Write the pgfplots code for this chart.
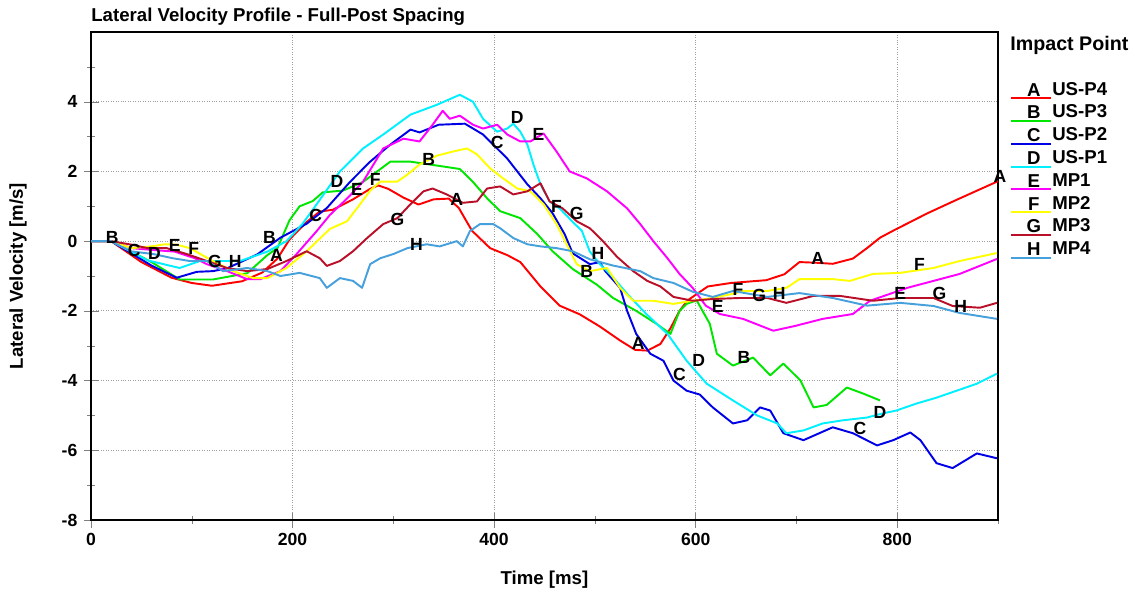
\documentclass[border=0pt]{standalone}
\usepackage{fontspec}
\setmainfont{Liberation Sans}
\usepackage{pgfplots}
\pgfplotsset{compat=1.18}

\definecolor{cA}{RGB}{255,0,0}
\definecolor{cB}{RGB}{0,230,0}
\definecolor{cC}{RGB}{0,0,230}
\definecolor{cD}{RGB}{0,240,255}
\definecolor{cE}{RGB}{255,0,255}
\definecolor{cF}{RGB}{255,255,0}
\definecolor{cG}{RGB}{185,15,40}
\definecolor{cH}{RGB}{70,160,220}

\newcommand{\lf}{\bfseries\fontsize{10}{12}\selectfont}
\newcommand{\tf}{\bfseries\fontsize{10.6}{12.5}\selectfont}

\pgfplotsset{
  letleg/.style={legend image code/.code={
      \draw[##1,line width=1.1pt] (0cm,-0.17cm) -- (0.8cm,-0.17cm);
      \node[font=\tf,text=black,inner sep=0pt,anchor=base] at (0.4cm,-0.13cm) {#1};}}
}
\tikzset{lbl/.style={font=\lf,inner sep=0pt,text=black}}

\begin{document}
\begin{tikzpicture}
\path (-1.82,-1.52) rectangle (20.88,10.40);
\begin{axis}[
  at={(0,0)}, anchor=south west,
  scale only axis,
  width=18.14cm, height=9.76cm,
  xmin=0, xmax=900, ymin=-8, ymax=6,
  xtick={0,200,...,800}, ytick={-8,-6,...,4},
  minor xtick={100,300,...,900}, minor ytick={-7,-5,...,5},
  xtick pos=bottom, ytick pos=left,
  tick align=center,
  major tick length=0.3cm, minor tick length=0.16cm,
  grid=major,
  major grid style={gray!75, densely dotted, line width=0.6pt},
  axis line style={line width=0.6pt},
  /pgf/number format/assume math mode=true,
  tick label style={font=\lf},
  xlabel={Time [ms]}, ylabel={Lateral Velocity [m/s]},
  every axis x label/.style={at={(axis description cs:0.5,-0.123)},anchor=center,font=\tf},
  every axis y label/.style={at={(axis description cs:-0.0805,0.5)},rotate=90,anchor=center,font=\tf},
  title={Lateral Velocity Profile - Full-Post Spacing},
  every axis title/.style={font=\tf, at={(axis description cs:0,1.031)}, anchor=west, inner sep=0pt},
  clip=false,
  legend cell align=left,
  legend style={at={(axis description cs:1.0132,0.902)}, anchor=north west,
    draw=none, fill=none, font=\tf, inner sep=0pt, row sep=0.056cm,
    nodes={inner sep=0pt, text height=0.3cm, text depth=0.08cm, xshift=0.05cm}},
  every axis plot/.append style={line width=1.1pt, line join=round},
]
% A  US-P4
\addplot[cA, letleg=A] coordinates {(0,0)(20,0)(50,-0.6)(80,-1.05)(100,-1.2)(120,-1.28)(150,-1.15)(170,-0.9)(185,-0.5)(197,0.05)(214,0.55)(227,0.85)(240,0.9)(260,1.2)(277,1.5)(285,1.6)(295,1.5)(310,1.25)(325,1.05)(340,1.2)(355,1.22)(365,0.95)(378,0.3)(396,-0.2)(413,-0.4)(426,-0.6)(446,-1.3)(465,-1.85)(485,-2.1)(505,-2.45)(525,-2.85)(540,-3.12)(552,-3.14)(565,-2.95)(575,-2.5)(584,-2.0)(592,-1.7)(602,-1.5)(612,-1.3)(635,-1.2)(670,-1.12)(688,-0.95)(703,-0.6)(720,-0.62)(736,-0.65)(756,-0.5)(770,-0.2)(783,0.1)(796,0.3)(830,0.8)(860,1.2)(900,1.72)};
\addlegendentry{US-P4}
% B  US-P3
\addplot[cB, letleg=B] coordinates {(0,0)(20,0)(40,-0.3)(60,-0.6)(88,-1.1)(121,-1.1)(155,-0.92)(175,-0.4)(185,-0.2)(197,0.6)(207,1.0)(220,1.15)(230,1.4)(250,1.45)(270,1.7)(297,2.28)(317,2.28)(336,2.2)(366,2.07)(379,1.7)(393,1.23)(406,0.86)(426,0.66)(443,0.2)(458,-0.29)(478,-0.8)(502,-1.25)(518,-1.63)(541,-2.0)(561,-2.37)(575,-2.66)(584,-2.0)(591,-1.8)(601,-1.7)(614,-2.37)(621,-3.23)(637,-3.57)(657,-3.34)(674,-3.85)(687,-3.51)(704,-4.0)(717,-4.77)(730,-4.7)(750,-4.2)(766,-4.37)(783,-4.57)};
\addlegendentry{US-P3}
% C  US-P2
\addplot[cC, letleg=C] coordinates {(0,0)(20,0)(40,-0.35)(60,-0.7)(85,-1.05)(105,-0.88)(121,-0.86)(135,-0.78)(165,-0.38)(188,0.1)(214,0.5)(234,0.95)(257,1.7)(277,2.28)(297,2.77)(317,3.2)(326,3.12)(345,3.34)(371,3.37)(389,3.06)(413,2.37)(433,1.63)(446,1.23)(458,0.8)(470,0.2)(478,-0.35)(495,-0.66)(505,-0.6)(510,-0.85)(525,-1.34)(532,-2.0)(541,-2.66)(555,-3.23)(568,-3.43)(578,-4.0)(591,-4.29)(604,-4.4)(617,-4.77)(637,-5.23)(651,-5.14)(664,-4.77)(674,-4.86)(687,-5.51)(707,-5.71)(736,-5.34)(756,-5.51)(780,-5.86)(796,-5.71)(813,-5.49)(823,-5.71)(839,-6.37)(855,-6.51)(879,-6.09)(899,-6.23)};
\addlegendentry{US-P2}
% D  US-P1
\addplot[cD, letleg=D] coordinates {(0,0)(20,0)(40,-0.3)(56,-0.55)(88,-0.77)(108,-0.57)(128,-0.57)(148,-0.57)(175,-0.3)(194,0)(210,0.5)(220,0.9)(247,2.0)(270,2.66)(290,3.06)(317,3.63)(343,3.91)(366,4.2)(379,4.0)(389,3.51)(403,3.14)(413,3.23)(419,3.37)(426,3.14)(433,2.77)(439,2.2)(446,1.63)(455,1.14)(465,0.94)(478,0.55)(487,0.3)(495,-0.3)(505,-0.66)(515,-0.94)(532,-1.51)(551,-2.09)(572,-2.66)(591,-3.43)(611,-4.09)(637,-4.57)(661,-5.0)(681,-5.23)(690,-5.51)(707,-5.43)(726,-5.23)(746,-5.14)(770,-5.06)(786,-4.94)(799,-4.86)(819,-4.66)(839,-4.49)(859,-4.29)(879,-4.09)(899,-3.8)};
\addlegendentry{US-P1}
% E  MP1
\addplot[cE, letleg=E] coordinates {(0,0)(20,0)(40,-0.2)(60,-0.25)(83,-0.3)(103,-0.49)(115,-0.66)(135,-0.86)(155,-1.09)(168,-1.09)(188,-0.86)(204,-0.37)(224,0.29)(237,0.75)(255,1.25)(270,1.71)(290,2.66)(310,2.94)(326,2.86)(339,3.34)(349,3.74)(356,3.51)(366,3.6)(379,3.34)(389,3.23)(403,3.34)(413,3.06)(426,2.86)(436,2.86)(449,3.09)(462,2.57)(475,2.0)(492,1.8)(512,1.43)(532,0.94)(545,0.49)(558,0)(572,-0.49)(584,-0.94)(597,-1.34)(610,-1.85)(624,-2.09)(647,-2.23)(677,-2.57)(699,-2.43)(726,-2.23)(756,-2.09)(773,-1.71)(793,-1.51)(810,-1.34)(836,-1.14)(862,-0.94)(899,-0.51)};
\addlegendentry{MP1}
% F  MP2
\addplot[cF, letleg=F] coordinates {(0,0)(20,0)(40,-0.2)(60,-0.15)(73,-0.09)(85,-0.1)(98,-0.2)(121,-0.57)(141,-0.86)(161,-1.06)(175,-1.06)(194,-0.77)(214,-0.29)(237,0.35)(254,0.57)(267,1.06)(277,1.45)(287,1.71)(304,1.71)(314,1.91)(326,2.2)(343,2.45)(359,2.57)(373,2.66)(383,2.49)(396,2.09)(409,1.8)(423,1.51)(436,1.43)(449,1.06)(462,0.49)(472,-0.09)(482,-0.66)(495,-0.86)(512,-0.77)(525,-1.34)(538,-1.71)(558,-1.71)(578,-1.8)(597,-1.71)(617,-1.63)(637,-1.51)(647,-1.43)(671,-1.43)(690,-1.34)(703,-1.09)(736,-1.09)(753,-1.14)(776,-0.94)(803,-0.91)(836,-0.77)(862,-0.57)(899,-0.34)};
\addlegendentry{MP2}
% G  MP3
\addplot[cG, letleg=G] coordinates {(0,0)(20,0)(40,-0.1)(56,-0.2)(75,-0.2)(95,-0.37)(115,-0.57)(135,-0.77)(155,-0.86)(175,-0.8)(194,-0.57)(214,-0.29)(227,-0.49)(234,-0.71)(247,-0.57)(260,-0.29)(274,0.09)(290,0.49)(304,0.66)(317,1.06)(330,1.43)(339,1.51)(353,1.34)(369,1.1)(383,1.14)(393,1.51)(406,1.57)(419,1.34)(433,1.43)(446,1.66)(455,1.14)(468,0.94)(482,0.57)(495,0.37)(508,0)(522,-0.45)(538,-0.86)(552,-1.14)(565,-1.3)(578,-1.6)(597,-1.71)(617,-1.66)(644,-1.63)(671,-1.63)(690,-1.77)(717,-1.57)(743,-1.57)(776,-1.71)(803,-1.63)(836,-1.63)(855,-1.86)(882,-1.91)(899,-1.77)};
\addlegendentry{MP3}
% H  MP4
\addplot[cH, letleg=H] coordinates {(0,0)(20,0)(39,-0.29)(62,-0.37)(81,-0.49)(98,-0.57)(115,-0.57)(131,-0.86)(155,-0.77)(175,-0.86)(188,-1.0)(207,-0.91)(227,-1.06)(234,-1.34)(247,-1.06)(260,-1.14)(269,-1.34)(277,-0.66)(287,-0.49)(300,-0.37)(314,-0.2)(333,-0.09)(346,-0.15)(363,0)(369,-0.15)(376,0.29)(386,0.49)(399,0.49)(406,0.37)(419,0.09)(433,-0.09)(446,-0.15)(462,-0.2)(478,-0.29)(495,-0.52)(518,-0.7)(545,-0.86)(558,-1.06)(578,-1.2)(597,-1.45)(617,-1.6)(637,-1.43)(671,-1.6)(703,-1.49)(736,-1.63)(770,-1.85)(803,-1.77)(836,-1.86)(862,-2.06)(899,-2.23)};
\addlegendentry{MP4}

% curve letters
\node[lbl] at (axis cs:21,0.11) {B};
\node[lbl] at (axis cs:43,-0.26) {C};
\node[lbl] at (axis cs:63,-0.34) {D};
\node[lbl] at (axis cs:83,-0.11) {E};
\node[lbl] at (axis cs:102,-0.2) {F};
\node[lbl] at (axis cs:123,-0.57) {G};
\node[lbl] at (axis cs:143,-0.57) {H};
\node[lbl] at (axis cs:177,0.11) {B};
\node[lbl] at (axis cs:184,-0.4) {A};
\node[lbl] at (axis cs:223,0.74) {C};
\node[lbl] at (axis cs:244,1.71) {D};
\node[lbl] at (axis cs:264,1.49) {E};
\node[lbl] at (axis cs:282,1.77) {F};
\node[lbl] at (axis cs:304,0.63) {G};
\node[lbl] at (axis cs:323,-0.09) {H};
\node[lbl] at (axis cs:335,2.34) {B};
\node[lbl] at (axis cs:363,1.2) {A};
\node[lbl] at (axis cs:403,2.83) {C};
\node[lbl] at (axis cs:423,3.54) {D};
\node[lbl] at (axis cs:444,3.06) {E};
\node[lbl] at (axis cs:462,1.0) {F};
\node[lbl] at (axis cs:482,0.8) {G};
\node[lbl] at (axis cs:503,-0.34) {H};
\node[lbl] at (axis cs:492,-0.86) {B};
\node[lbl] at (axis cs:543,-2.94) {A};
\node[lbl] at (axis cs:584,-3.83) {C};
\node[lbl] at (axis cs:603,-3.43) {D};
\node[lbl] at (axis cs:622,-1.86) {E};
\node[lbl] at (axis cs:642,-1.4) {F};
\node[lbl] at (axis cs:663,-1.57) {G};
\node[lbl] at (axis cs:683,-1.49) {H};
\node[lbl] at (axis cs:648,-3.34) {B};
\node[lbl] at (axis cs:721,-0.51) {A};
\node[lbl] at (axis cs:763,-5.37) {C};
\node[lbl] at (axis cs:783,-4.91) {D};
\node[lbl] at (axis cs:803,-1.49) {E};
\node[lbl] at (axis cs:822,-0.66) {F};
\node[lbl] at (axis cs:842,-1.51) {G};
\node[lbl] at (axis cs:863,-1.86) {H};
\node[lbl] at (axis cs:902,1.86) {A};

\node[font=\bfseries\fontsize{11.2}{13}\selectfont, anchor=west, inner sep=0pt] at (axis description cs:1.0132,0.973) {Impact Point};
\end{axis}
\end{tikzpicture}
\end{document}
